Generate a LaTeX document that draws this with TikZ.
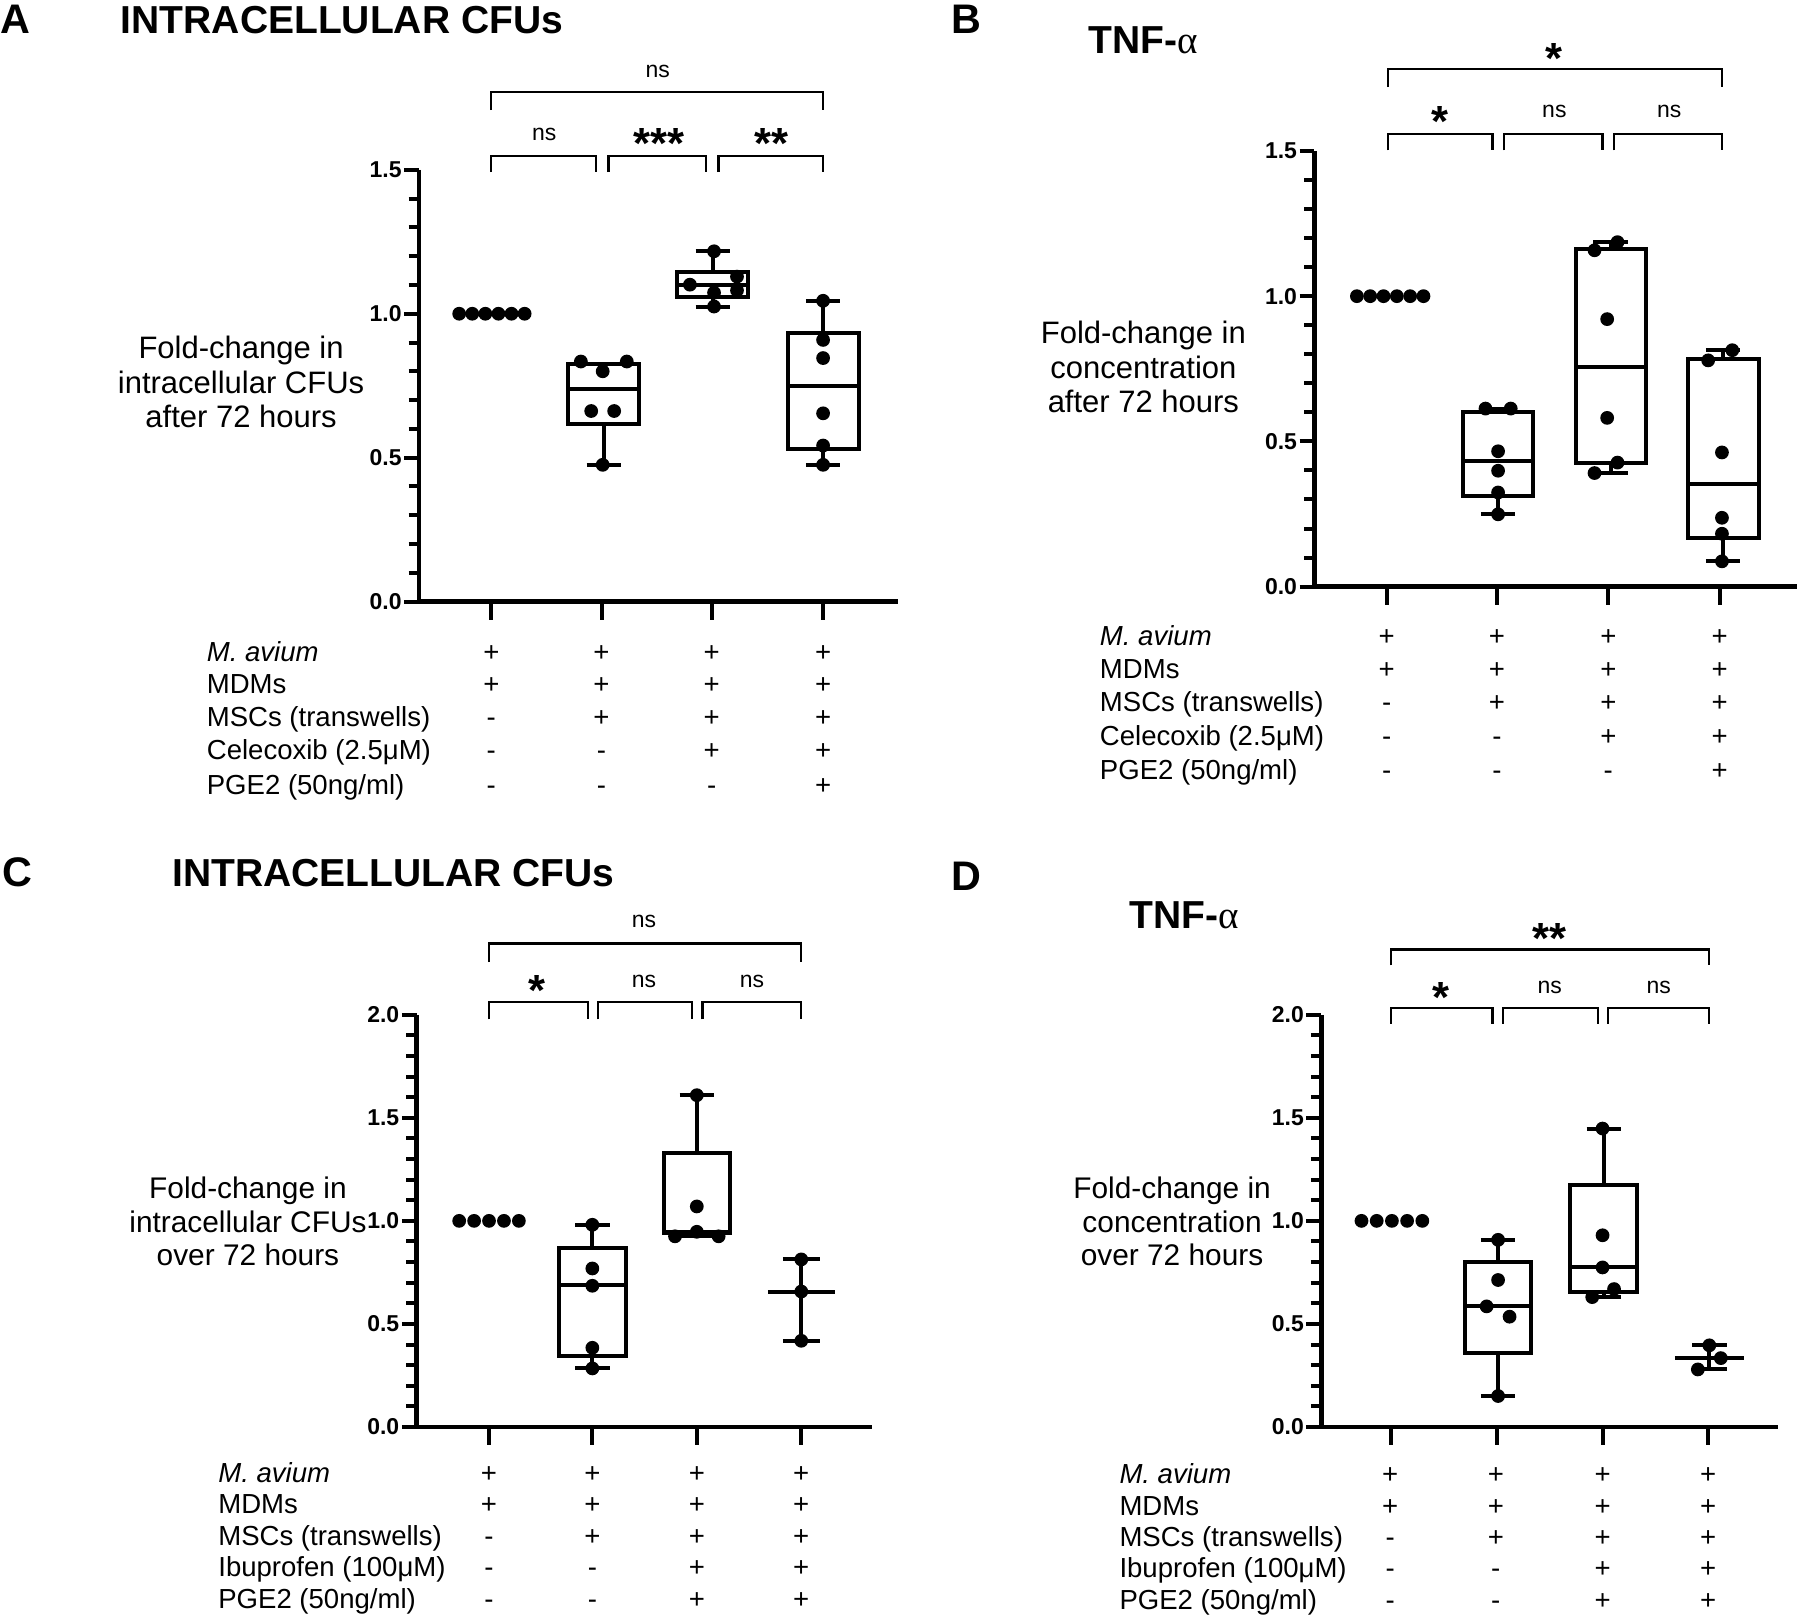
\documentclass[tikz,border=0pt]{standalone}
\usepackage{fontspec}
\setmainfont{Liberation Sans}
\newfontfamily\greekfont{Liberation Serif}
\usetikzlibrary{positioning}

\tikzset{
  axisline/.style={line width=4pt},
  tickline/.style={line width=3.5pt},
  boxline/.style={line width=3.5pt},
  brk/.style={line width=2pt},
  dot/.style={fill=black},
  paneltag/.style={font=\fontsize{36}{40}\selectfont\bfseries, anchor=base west, inner sep=0pt},
  paneltitle/.style={font=\fontsize{34}{40}\selectfont\bfseries, anchor=base west, inner sep=0pt},
  ylab/.style={font=\fontsize{27}{30}\selectfont, align=center, inner sep=0pt},
  ylabs/.style={font=\fontsize{26}{29}\selectfont, align=center, inner sep=0pt},
  ticklab/.style={font=\fontsize{20}{22}\selectfont\bfseries, anchor=east, inner sep=0pt},
  rowlab/.style={font=\fontsize{24}{28}\selectfont, anchor=base west, inner sep=0pt},
  sign/.style={font=\fontsize{24}{28}\selectfont, anchor=base, inner sep=0pt},
  nslab/.style={font=\fontsize{20}{24}\selectfont, inner sep=0pt},
  starlab/.style={font=\fontsize{38}{40}\selectfont\bfseries, anchor=base, inner sep=0pt},
}

% box and whiskers: x, half width, min, q1, median, q3, max
\newcommand{\bwplot}[7]{%
  \draw[boxline] (#1-#2,#4) rectangle (#1+#2,#6);
  \draw[boxline] (#1-#2,#5) -- (#1+#2,#5);
  \draw[boxline] (#1,#6) -- (#1,#7) (#1-15,#7) -- (#1+15,#7);
  \draw[boxline] (#1,#4) -- (#1,#3) (#1-15,#3) -- (#1+15,#3);
}
% significance bracket: x1, x2, top, end
\newcommand{\sigbar}[4]{\draw[brk] (#1,#4) -- (#1,#3) -- (#2,#3) -- (#2,#4);}

\begin{document}
\begin{tikzpicture}[x=1pt, y=-1pt]
\useasboundingbox (0,0) rectangle (1568,1408);

% ---------- panel A ----------
\node[paneltag] (A-tag) at (0,29) {A};
\node[paneltitle] (A-title) at (105,29) {INTRACELLULAR CFUs};
\node[ylab] (A-ylab) at (210,333) {Fold-change in\\intracellular CFUs\\after 72 hours};
\begin{scope}[shift={(365,524)}, y=250.7pt]
  \draw[axisline] (0,1.5) -- (0,0) -- (417,0);
  \foreach \k in {0,...,15} \draw[tickline] (-9,\k/10) -- (0,\k/10);
  \foreach \v/\t in {0/0.0, 0.5/0.5, 1/1.0, 1.5/1.5} {
    \draw[tickline] (-13,\v) -- (0,\v);
    \node[ticklab] (A-y\t) at (-15,\v) {\t};
  }
  \foreach \c in {63,159,255,352} \draw[tickline] (\c,0) -- ++(0pt,-16pt);
  \bwplot{161}{31}{0.475}{0.618}{0.738}{0.826}{0.826}
  \bwplot{256}{31}{1.025}{1.057}{1.101}{1.145}{1.217}
  \bwplot{352}{31}{0.475}{0.531}{0.750}{0.933}{1.045}
  \foreach \px/\pv in {35/1,46.4/1,57.8/1,69.2/1,80.6/1,92/1,
      141/0.834,160/0.80,181/0.834,150/0.662,170/0.662,160/0.475,
      257/1.217,236/1.101,277/1.129,277/1.081,257/1.073,257/1.025,
      352/1.045,352/0.909,352/0.846,352/0.654,352/0.542,352/0.475}
    \fill[dot] (\px,\pv) circle[radius=6pt];
\end{scope}
% brackets
\sigbar{428}{717}{80}{96}
\sigbar{428}{519}{136}{150}
\sigbar{530}{615}{136}{150}
\sigbar{626}{717}{136}{150}
\node[nslab] (A-s0) at (573,62) {ns};
\node[nslab] (A-s1) at (474,117) {ns};
\node[starlab] (A-s2) at (574,138) {***};
\node[starlab] (A-s3) at (672,138) {**};
% table
\foreach \lab/\yy/\sa/\sb/\sc/\sd [count=\i] in {{\textit{M. avium}}/576/+/+/+/+, MDMs/604/+/+/+/+,
    {MSCs (transwells)}/633/-/+/+/+, {Celecoxib (2.5μM)}/662/-/-/+/+, {PGE2 (50ng/ml)}/692/-/-/-/+} {
  \node[rowlab] (A-row\i) at (180,\yy) {\lab};
  \node[sign] at (428,\yy) {\sa};
  \node[sign] at (524,\yy) {\sb};
  \node[sign] at (620,\yy) {\sc};
  \node[sign] at (717,\yy) {\sd};
}

% ---------- panel B ----------
\node[paneltag] (B-tag) at (829,29) {B};
\node[paneltitle] (B-title) at (948,47) {TNF-{\greekfont\mdseries α}};
\node[ylab] (B-ylab) at (996,320) {Fold-change in\\concentration\\after 72 hours};
\begin{scope}[shift={(1145,511)}, y=253pt]
  \draw[axisline] (0,1.5) -- (0,0) -- (420,0);
  \foreach \k in {0,...,15} \draw[tickline] (-9,\k/10) -- (0,\k/10);
  \foreach \v/\t in {0/0.0, 0.5/0.5, 1/1.0, 1.5/1.5} {
    \draw[tickline] (-13,\v) -- (0,\v);
    \node[ticklab] (B-y\t) at (-15,\v) {\t};
  }
  \foreach \c in {63,159,256,353} \draw[tickline] (\c,0) -- ++(0pt,-16pt);
  \bwplot{160}{30.5}{0.249}{0.312}{0.431}{0.601}{0.613}
  \bwplot{258}{30.5}{0.391}{0.427}{0.755}{1.162}{1.186}
  \bwplot{356}{31}{0.087}{0.166}{0.352}{0.783}{0.814}
  \foreach \px/\pv in {37/1,48.6/1,60.2/1,71.8/1,83.4/1,95/1,
      149/0.613,171/0.613,160/0.466,160/0.399,160/0.324,160/0.249,
      244/1.158,264/1.186,255/0.921,255/0.581,264/0.427,244/0.391,
      343/0.779,364/0.814,355/0.462,355/0.237,355/0.182,355/0.087}
    \fill[dot] (\px,\pv) circle[radius=6pt];
\end{scope}
\sigbar{1209}{1500}{60}{76}
\sigbar{1209}{1300}{117}{131}
\sigbar{1310}{1396}{117}{131}
\sigbar{1406}{1500}{117}{131}
\node[starlab] (B-s0) at (1354,64) {*};
\node[starlab] (B-s1) at (1254,119) {*};
\node[nslab] (B-s2) at (1354,97) {ns};
\node[nslab] (B-s3) at (1454,97) {ns};
\foreach \lab/\yy/\sa/\sb/\sc/\sd [count=\i] in {{\textit{M. avium}}/562/+/+/+/+, MDMs/591/+/+/+/+,
    {MSCs (transwells)}/620/-/+/+/+, {Celecoxib (2.5μM)}/649/-/-/+/+, {PGE2 (50ng/ml)}/679/-/-/-/+} {
  \node[rowlab] (B-row\i) at (958,\yy) {\lab};
  \node[sign] at (1208,\yy) {\sa};
  \node[sign] at (1304,\yy) {\sb};
  \node[sign] at (1401,\yy) {\sc};
  \node[sign] at (1498,\yy) {\sd};
}

% ---------- panel C ----------
\node[paneltag] (C-tag) at (2,772) {C};
\node[paneltitle] (C-title) at (150,772) {INTRACELLULAR CFUs};
\node[ylabs] (C-ylab) at (216,1064) {Fold-change in\\intracellular CFUs\\over 72 hours};
\begin{scope}[shift={(363,1243)}, y=179.5pt]
  \draw[axisline] (0,2) -- (0,0) -- (397,0);
  \foreach \k in {0,...,20} \draw[tickline] (-9,\k/10) -- (0,\k/10);
  \foreach \v/\t in {0/0.0, 0.5/0.5, 1/1.0, 1.5/1.5, 2/2.0} {
    \draw[tickline] (-13,\v) -- (0,\v);
    \node[ticklab] (C-y\t) at (-15,\v) {\t};
  }
  \foreach \c in {63,153,244,335} \draw[tickline] (\c,0) -- ++(0pt,-16pt);
  \bwplot{153}{29}{0.284}{0.345}{0.691}{0.869}{0.981}
  \bwplot{244}{29}{0.925}{0.942}{0.945}{1.331}{1.610}
  \draw[boxline] (335,0.418) -- (335,0.813) (319,0.813) -- (351,0.813)
    (319,0.418) -- (351,0.418) (306,0.657) -- (364,0.657);
  \foreach \px/\pv in {37/1,50/1,63/1,76/1,89/1,
      153/0.981,153/0.769,153/0.685,153/0.384,153/0.284,
      244/1.610,244/1.070,225/0.925,244/0.947,263/0.925,
      335/0.813,335/0.657,335/0.418}
    \fill[dot] (\px,\pv) circle[radius=6pt];
\end{scope}
\sigbar{426}{698}{822}{838}
\sigbar{426}{512}{873}{888}
\sigbar{521}{603}{873}{888}
\sigbar{612}{698}{873}{888}
\node[nslab] (C-s0) at (561,803) {ns};
\node[starlab] (C-s1) at (468,876) {*};
\node[nslab] (C-s2) at (561,855) {ns};
\node[nslab] (C-s3) at (655,855) {ns};
\foreach \lab/\yy/\sa/\sb/\sc/\sd [count=\i] in {{\textit{M. avium}}/1291/+/+/+/+, MDMs/1318/+/+/+/+,
    {MSCs (transwells)}/1346/-/+/+/+, {Ibuprofen (100μM)}/1373/-/-/+/+, {PGE2 (50ng/ml)}/1401/-/-/+/+} {
  \node[rowlab] (C-row\i) at (190,\yy) {\lab};
  \node[sign] at (426,\yy) {\sa};
  \node[sign] at (516,\yy) {\sb};
  \node[sign] at (607,\yy) {\sc};
  \node[sign] at (698,\yy) {\sd};
}

% ---------- panel D ----------
\node[paneltag] (D-tag) at (829,776) {D};
\node[paneltitle] (D-title) at (984,809) {TNF-{\greekfont\mdseries α}};
\node[ylabs] (D-ylab) at (1021,1064) {Fold-change in\\concentration\\over 72 hours};
\begin{scope}[shift={(1151,1243)}, y=179.5pt]
  \draw[axisline] (0,2) -- (0,0) -- (398,0);
  \foreach \k in {0,...,20} \draw[tickline] (-9,\k/10) -- (0,\k/10);
  \foreach \v/\t in {0/0.0, 0.5/0.5, 1/1.0, 1.5/1.5, 2/2.0} {
    \draw[tickline] (-13,\v) -- (0,\v);
    \node[ticklab] (D-y\t) at (-15,\v) {\t};
  }
  \foreach \c in {61,153,245,337} \draw[tickline] (\c,0) -- ++(0pt,-16pt);
  \bwplot{154}{29}{0.150}{0.357}{0.585}{0.802}{0.908}
  \bwplot{246}{29}{0.630}{0.657}{0.774}{1.175}{1.448}
  \draw[boxline] (338,0.279) -- (338,0.396) (323,0.396) -- (353,0.396)
    (323,0.279) -- (353,0.279) (308,0.334) -- (368,0.334);
  \foreach \px/\pv in {35/1,48.25/1,61.5/1,74.75/1,88/1,
      154/0.908,154/0.713,144/0.585,164/0.535,154/0.150,
      245/1.448,245/0.930,245/0.774,255/0.669,236/0.630,
      338/0.396,348/0.334,328/0.279}
    \fill[dot] (\px,\pv) circle[radius=6pt];
\end{scope}
\sigbar{1212}{1489}{827}{841}
\sigbar{1212}{1300}{878}{892}
\sigbar{1309}{1392}{878}{892}
\sigbar{1401}{1489}{878}{892}
\node[starlab] (D-s0) at (1350,831) {**};
\node[starlab] (D-s1) at (1255,882) {*};
\node[nslab] (D-s2) at (1350,860) {ns};
\node[nslab] (D-s3) at (1445,860) {ns};
\foreach \lab/\yy/\sa/\sb/\sc/\sd [count=\i] in {{\textit{M. avium}}/1292/+/+/+/+, MDMs/1320/+/+/+/+,
    {MSCs (transwells)}/1347/-/+/+/+, {Ibuprofen (100μM)}/1374/-/-/+/+, {PGE2 (50ng/ml)}/1402/-/-/+/+} {
  \node[rowlab] (D-row\i) at (975,\yy) {\lab};
  \node[sign] at (1211,\yy) {\sa};
  \node[sign] at (1303,\yy) {\sb};
  \node[sign] at (1396,\yy) {\sc};
  \node[sign] at (1488,\yy) {\sd};
}
\end{tikzpicture}
\end{document}
